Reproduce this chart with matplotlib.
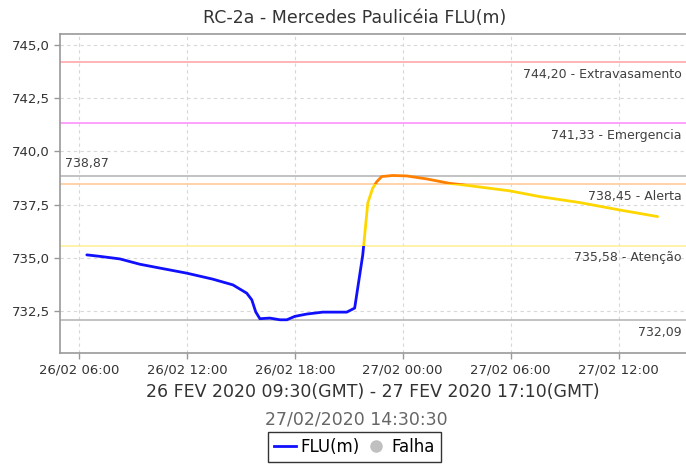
import matplotlib
matplotlib.use("Agg")
import matplotlib.pyplot as plt
import matplotlib.dates as mdates
from matplotlib.patches import Rectangle
from matplotlib.lines import Line2D
from matplotlib.ticker import FuncFormatter, MultipleLocator
from datetime import datetime, timedelta

# ---- data ----
title = "RC-2a - Mercedes Paulicéia FLU(m)"
xlabel = "26 FEV 2020 09:30(GMT) - 27 FEV 2020 17:10(GMT)"
subtitle = "27/02/2020 14:30:30"

# hours after 26/02/2020 00:00
hours = [6.44, 7.17, 8.28, 9.39, 10.5, 12.0, 13.44, 14.56, 15.33, 15.61, 15.83,
         16.06, 16.61, 17.17, 17.56, 18.0, 18.67, 19.56, 20.89, 21.33, 21.78,
         22.06, 22.33, 22.56, 22.83, 23.44, 24.22, 25.33, 26.61, 27.17, 29.94,
         31.61, 33.83, 36.06, 38.17]
levels = [735.14, 735.07, 734.95, 734.70, 734.52, 734.28, 734.00, 733.73, 733.34,
          733.03, 732.46, 732.14, 732.17, 732.09, 732.09, 732.25, 732.36, 732.45,
          732.45, 732.64, 735.14, 737.58, 738.27, 738.58, 738.82, 738.87, 738.85,
          738.71, 738.50, 738.45, 738.15, 737.88, 737.60, 737.25, 736.94]

thr_values = [744.20, 741.33, 738.45, 735.58]
thr_names = ["Extravasamento", "Emergencia", "Alerta", "Atenção"]
thr_colors = ["#ffa8a8", "#ff90ff", "#ffcc99", "#fff0a0"]
max_level = 738.87
min_level = 732.09

base = datetime(2020, 2, 26)
times = [base + timedelta(hours=h) for h in hours]

fig = plt.figure(figsize=(6.86, 4.65), dpi=100)
ax = fig.add_axes([0.0875, 0.2409, 0.9125, 0.686])

xmin = base + timedelta(hours=4.95)
xmax = base + timedelta(hours=39.75)
ax.set_xlim(xmin, xmax)
ax.set_ylim(730.53, 745.52)

# threshold lines
for v, n, c in zip(thr_values, thr_names, thr_colors):
    ax.axhline(v, color=c, lw=1.2, zorder=2)
    ax.text(0.993, v - 0.28, f"{v:.2f}".replace(".", ",") + " - " + n,
            transform=ax.get_yaxis_transform(), ha="right", va="top",
            fontsize=9, color="#404040")
ax.axhline(max_level, color="#b8b8b8", lw=1.2, zorder=2)
ax.text(0.008, max_level + 0.28, f"{max_level:.2f}".replace(".", ","),
        transform=ax.get_yaxis_transform(), ha="left", va="bottom",
        fontsize=9, color="#404040")
ax.axhline(min_level, color="#b8b8b8", lw=1.2, zorder=2)
ax.text(0.993, min_level - 0.28, f"{min_level:.2f}".replace(".", ","),
        transform=ax.get_yaxis_transform(), ha="right", va="top",
        fontsize=9, color="#404040")

# data line, coloured by threshold band
bands = [(700, 735.58, "#1010ff"), (735.58, 738.45, "#ffd700"), (738.45, 760, "#ff8000")]
x0 = mdates.date2num(xmin) - 10
for lo, hi, c in bands:
    ln, = ax.plot(times, levels, color=c, lw=2.0, zorder=4, solid_capstyle="round")
    rect = Rectangle((x0, lo), 100, hi - lo, transform=ax.transData)
    ln.set_clip_path(rect)

# axes styling
for s in ["left", "bottom", "top"]:
    ax.spines[s].set_color("#999999")
    ax.spines[s].set_linewidth(1.2)
ax.spines["right"].set_visible(False)
ax.grid(True, color="#d8d8d8", ls=(0, (3, 3)), lw=0.8)
ax.set_axisbelow(True)

ax.xaxis.set_major_locator(mdates.HourLocator(byhour=[0, 6, 12, 18]))
ax.xaxis.set_major_formatter(mdates.DateFormatter("%d/%m %H:%M"))
ax.yaxis.set_major_locator(MultipleLocator(2.5))
ax.yaxis.set_major_formatter(FuncFormatter(lambda v, p: f"{v:.1f}".replace(".", ",")))
ax.tick_params(axis="both", labelsize=9.5, colors="#999999", labelcolor="#333333",
               length=4, width=1)

fig.text(0.517, 0.962, title, ha="center", va="center", fontsize=12.5, color="#333333")
ax.set_xlabel(xlabel, fontsize=12.5, color="#333333", labelpad=5)
fig.text(0.52, 0.098, subtitle, ha="center", va="center", fontsize=12.5, color="#666666")

handles = [Line2D([], [], color="#1010ff", lw=2),
           Line2D([], [], color="#c0c0c0", marker="o", ls="none", markersize=8)]
leg = fig.legend(handles, ["FLU(m)", "Falha"], loc="lower center",
                 bbox_to_anchor=(0.517, 0.0), ncol=2, fontsize=12,
                 frameon=True, fancybox=False, edgecolor="black",
                 handlelength=1.3, handletextpad=0.3, columnspacing=0.3,
                 borderpad=0.35, borderaxespad=0.2)
leg.get_frame().set_linewidth(1.0)

fig.savefig("out.png", dpi=100)
